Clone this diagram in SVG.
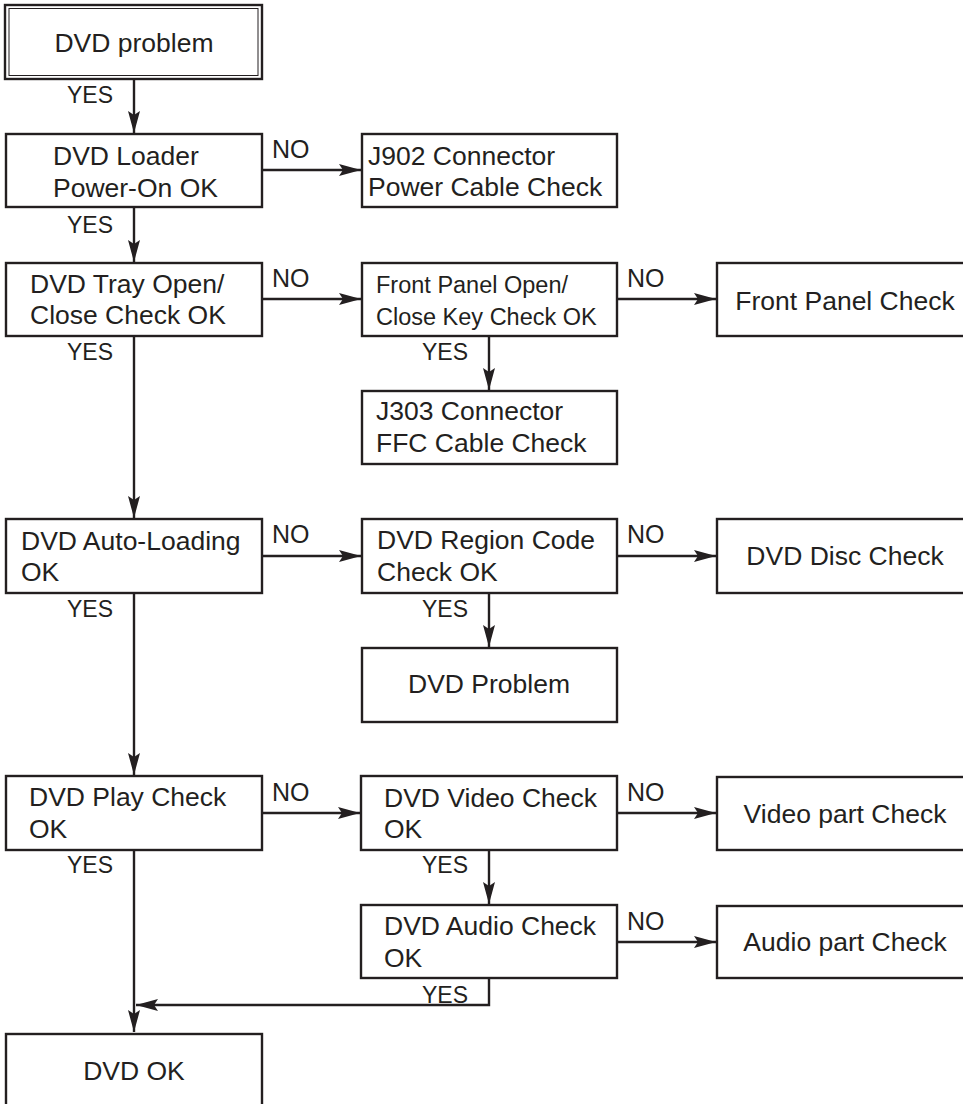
<svg xmlns="http://www.w3.org/2000/svg" width="963" height="1104" viewBox="0 0 963 1104">
<defs>
<marker id="ah" viewBox="0 0 22 13" refX="22" refY="6.5" markerWidth="22" markerHeight="13" markerUnits="userSpaceOnUse" orient="auto">
<path d="M0,0.5 L22,6.5 L0,12.5 L4,6.5 Z" fill="#231f20"/>
</marker>
</defs>
<style>
rect{fill:#fff;stroke:#231f20;stroke-width:2.4}
text{font-family:"Liberation Sans",Arial,Helvetica,sans-serif;fill:#231f20}
.t{font-size:26.5px}
.s{font-size:23.5px}
.c{text-anchor:middle}
.y{font-size:23px}
.n{font-size:25px}
#connectors path{fill:none;stroke:#231f20;stroke-width:2.4;marker-end:url(#ah)}
</style>
<rect x="0" y="0" width="963" height="1104" style="stroke:none;fill:#fff"/>
<g id="connectors">
<path d="M134,79 V133"/>
<path d="M134,207 V262"/>
<path d="M134,336 V518"/>
<path d="M134,593 V775"/>
<path d="M134,850 V1032"/>
<path d="M262,170 H361"/>
<path d="M262,299 H361"/>
<path d="M262,556 H361"/>
<path d="M262,813 H360"/>
<path d="M617,299 H716"/>
<path d="M617,556 H716"/>
<path d="M617,813 H716"/>
<path d="M617,942 H716"/>
<path d="M489,336 V390"/>
<path d="M489,593 V647"/>
<path d="M489,850 V904"/>
<path d="M489,978 V1005 H136"/>
<text class="y" x="67" y="103">YES</text>
<text class="y" x="67" y="233">YES</text>
<text class="y" x="67" y="360">YES</text>
<text class="y" x="67" y="617">YES</text>
<text class="y" x="67" y="873">YES</text>
<text class="y" x="422" y="360">YES</text>
<text class="y" x="422" y="617">YES</text>
<text class="y" x="422" y="873">YES</text>
<text class="y" x="422" y="1003">YES</text>
<text class="n" x="272" y="158">NO</text>
<text class="n" x="272" y="287">NO</text>
<text class="n" x="272" y="543">NO</text>
<text class="n" x="272" y="801">NO</text>
<text class="n" x="627" y="287">NO</text>
<text class="n" x="627" y="543">NO</text>
<text class="n" x="627" y="801">NO</text>
<text class="n" x="627" y="930">NO</text>
</g>
<g id="n-start">
<rect x="5" y="5" width="257" height="74"/>
<rect x="9" y="8.5" width="249" height="67" style="stroke-width:1"/>
<text class="t c" x="134" y="52">DVD problem</text>
</g>
<g id="n-loader">
<rect x="6" y="134" width="256" height="73"/>
<text class="t" x="53" y="165">DVD Loader</text>
<text class="t" x="53" y="197">Power-On OK</text>
</g>
<g id="n-j902">
<rect x="362" y="134" width="255" height="73"/>
<text class="t" x="368" y="165">J902 Connector</text>
<text class="t" x="368" y="196">Power Cable Check</text>
</g>
<g id="n-tray">
<rect x="6" y="263" width="256" height="73"/>
<text class="t" x="30" y="293">DVD Tray Open/</text>
<text class="t" x="30" y="324">Close Check OK</text>
</g>
<g id="n-fpkey">
<rect x="362" y="263" width="255" height="73"/>
<text class="s" x="376" y="293">Front Panel Open/</text>
<text class="s" x="376" y="325">Close Key Check OK</text>
</g>
<g id="n-fpcheck">
<rect x="717" y="263" width="260" height="73"/>
<text class="t c" x="845" y="310">Front Panel Check</text>
</g>
<g id="n-j303">
<rect x="362" y="391" width="255" height="73"/>
<text class="t" x="376" y="420">J303 Connector</text>
<text class="t" x="376" y="452">FFC Cable Check</text>
</g>
<g id="n-auto">
<rect x="6" y="519" width="256" height="74"/>
<text class="t" x="21" y="550">DVD Auto-Loading</text>
<text class="t" x="21" y="581">OK</text>
</g>
<g id="n-region">
<rect x="362" y="519" width="255" height="74"/>
<text class="t" x="377" y="549">DVD Region Code</text>
<text class="t" x="377" y="581">Check OK</text>
</g>
<g id="n-disc">
<rect x="717" y="519" width="260" height="74"/>
<text class="t c" x="845" y="565">DVD Disc Check</text>
</g>
<g id="n-dvdproblem">
<rect x="362" y="648" width="255" height="74"/>
<text class="t c" x="489" y="693">DVD Problem</text>
</g>
<g id="n-play">
<rect x="6" y="776" width="256" height="74"/>
<text class="t" x="29" y="806">DVD Play Check</text>
<text class="t" x="29" y="838">OK</text>
</g>
<g id="n-video">
<rect x="361" y="776" width="256" height="74"/>
<text class="t" x="384" y="807">DVD Video Check</text>
<text class="t" x="384" y="838">OK</text>
</g>
<g id="n-videopart">
<rect x="717" y="777" width="260" height="73"/>
<text class="t c" x="845" y="823">Video part Check</text>
</g>
<g id="n-audio">
<rect x="361" y="905" width="256" height="73"/>
<text class="t" x="384" y="935">DVD Audio Check</text>
<text class="t" x="384" y="967">OK</text>
</g>
<g id="n-audiopart">
<rect x="717" y="906" width="260" height="72"/>
<text class="t c" x="845" y="951">Audio part Check</text>
</g>
<g id="n-ok">
<rect x="6" y="1034" width="256" height="90"/>
<text class="t c" x="134" y="1080">DVD OK</text>
</g>
</svg>
